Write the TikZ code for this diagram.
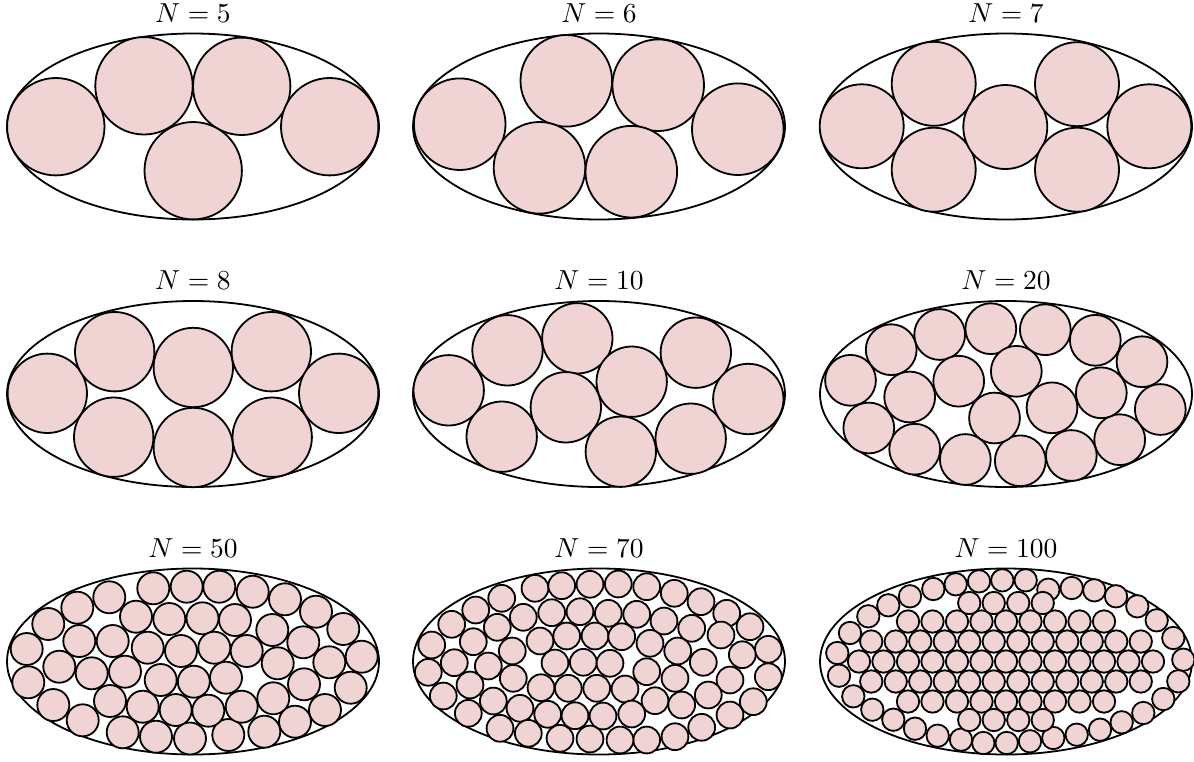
\documentclass[tikz,border=0pt]{standalone}
\definecolor{discfill}{RGB}{240,211,211}
\tikzset{
  disc/.style={fill=discfill, draw=black, line width=1.8pt},
  outer/.style={draw=black, line width=1.8pt},
  ttl/.style={anchor=base, scale=2.75, inner sep=0pt}
}
\begin{document}
\begin{tikzpicture}[x=1pt,y=-1pt]
\useasboundingbox (0,0) rectangle (1194,761);
% titles
\node[ttl] (t1) at (193,22) {$N=5$};
\node[ttl] (t2) at (599,22) {$N=6$};
\node[ttl] (t3) at (1006,22) {$N=7$};
\node[ttl] (t4) at (193,289.5) {$N=8$};
\node[ttl] (t5) at (599,289.5) {$N=10$};
\node[ttl] (t6) at (1006,289.5) {$N=20$};
\node[ttl] (t7) at (193,557) {$N=50$};
\node[ttl] (t8) at (599,557) {$N=70$};
\node[ttl] (t9) at (1006,557) {$N=100$};
% ellipses
\foreach \cx/\cy in {193/126.5,599/126.5,1006/126.5,193/394,599/394,1006/394,193/661.5,599/661.5,1006/661.5}
  \draw[outer] (\cx,\cy) ellipse [x radius=186pt, y radius=93pt];
% N=5
\foreach \x/\y in {55.8/126.7,144/85.8,241.7/86.3,329.7/126.7,193.2/170.7}
  \draw[disc] (\x,\y) circle [radius=48.7pt];
% N=6
\foreach \x/\y in {459.7/124.2,566.3/80.8,658.2/85.2,737.8/129.2,539.5/167.8,631.3/171.7}
  \draw[disc] (\x,\y) circle [radius=45.8pt];
% N=7
\foreach \x/\y in {861.7/126.3,933.7/83.8,933.7/169.7,1005.3/127,1077/84.2,1077/169.7,1149.3/126.3}
  \draw[disc] (\x,\y) circle [radius=42pt];
% N=8
\foreach \x/\y in {47.3/393.3,114.7/351.7,113.7/437.2,193.3/367.5,193.3/447.5,271.3/351.7,272.2/437.2,338.7/393.3}
  \draw[disc] (\x,\y) circle [radius=39.7pt];
% N=10
\foreach \x/\y in {448.7/390.3,507.5/350.3,577.3/338.3,501.7/436.7,565.8/407.3,631.7/381.7,620.8/451.7,695.8/352.7,690.7/438.7,748.3/399}
  \draw[disc] (\x,\y) circle [radius=35.2pt];
% N=20
\foreach \x/\y in {850.5/380.3,891.2/349.7,939.7/334.5,990.8/328.7,1045.3/329.7,1095.3/340.3,1142/361.7,1160.3/409.5,1119.7/439.7,1071.3/455.5,1020.3/460.8,965.3/459.5,914.7/449.2,868.8/428,909.7/397,958.7/381.2,1016.3/371.3,994.5/418,1052/407.8,1101.3/392.8}
  \draw[disc] (\x,\y) circle [radius=25.4pt];
% N=50
\foreach \x/\y in {26.7/649,28.3/682.3,48.3/624,77.3/607.7,109.3/597.3,153.3/588.3,186.7/586.7,136/616.7,169.3/619,202.5/618.3,79.3/641,112.7/641,147.7/647.7,181/651,59.3/666.7,91.7/673.3,125/671.7,160.7/680,193.8/681.7,53.3/705,110/701,142.7/706.7,175.7/710,82.7/720.3,122.7/732.3,156/736.7,190/738.5,219.3/586.7,252.7/591.7,285/599.3,316/611.7,343.3/629,361.7/656.7,350.7/687.7,325/710,295/721.7,264.3/731.7,228.3/735,235/620,272.3/630,303.3/642.3,329.3/662.3,214.3/647.7,246.7/651,277.7/663.3,226/677.7,304/684.3,273.3/698.3,241.7/706.7,208.3/710.7}
  \draw[disc] (\x,\y) circle [radius=16pt];
% N=70
\foreach \x/\y in {535/588.3,561.7/585.7,590/584.3,501.7/598.3,475.7/610,451.7/624.3,431.7/645,428.3/672.3,523.3/617.3,551.7/612.7,580/611.7,497.3/627.3,473.3/641.7,454.3/662.7,540/641,566.7/636,512.3/651,488.3/666,555/663,583.3/662.3,470/685,443.3/696,513.3/678.3,541/687.7,568.3/688.3,493.3/701,468.3/713.3,520/708.3,547.7/714.3,575/715.7,500/728.3,528.3/733.3,560/738.3,590/739,608.3/613.3,595/636,596.7/688.3,603/716,618.3/584,646.7/586.7,674.3/593.3,701/601.7,726.7/613.3,750/626.7,768.3/649.3,768.3/676.7,753.3/701.7,730/715,701.7/727.3,675/736.7,646.7/740,620/740,636.7/614.3,664/621,691.7/628.3,721/635,742.3/654.7,621.7/636.7,650/643.3,677.7/651,703.3/662.3,610/663.3,646.7/671.7,675/678.3,730/680,625/689,655/700.7,681.7/705,708.3/695,631.7/714}
  \draw[disc] (\x,\y) circle [radius=13.4pt];
% N=100: boundary chain
\foreach \x/\y in {837.3/653,839/675.7,850/633,868.3/616.3,888.3/605.3,910/596.3,933.3/589,955.7/584.3,979/581.3,1002.3/580.3,1025.7/580.3,1048.3/589.7,1071.7/588,1094.3/590.3,1116/596.3,1137.3/606.3,1156.7/620.3,1173.3/638,1183.3/659.7,1178.3/681.3,1163.3/699,1143.3/713,1121.7/722.3,1100/729.7,1076.7/734.7,1053.3/738,1030/741.3,1006.7/743,983.3/743,961/739.7,937.7/735.7,915/728.7,893.3/719.7,872.3/709.7,853.3/696.3}
  \draw[disc] (\x,\y) circle [radius=11.2pt];
% N=100: interior rows
\foreach \dy/\n in {0/13,20/12,-20/12,40/9,-40/9,58.5/4,-58.5/4}
  \foreach \i in {1,...,\n}
    \draw[disc] ({1006+(\i-(\n+1)/2)*24.5},{661.5+\dy}) circle [radius=11.2pt];
\end{tikzpicture}
\end{document}
